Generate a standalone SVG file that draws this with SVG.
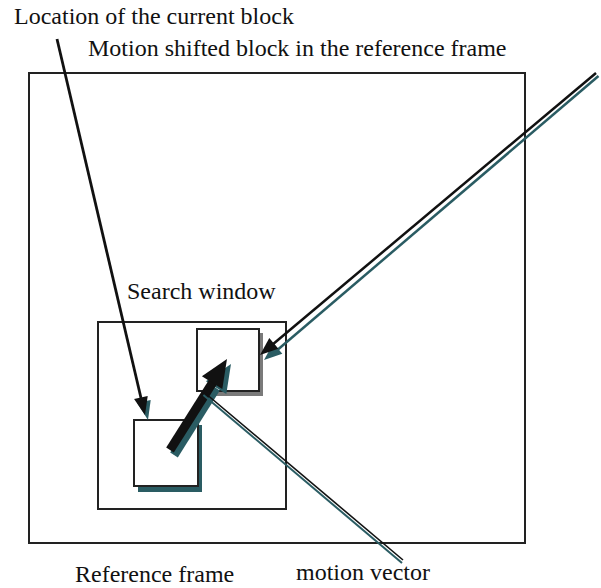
<svg xmlns="http://www.w3.org/2000/svg" width="601" height="588" viewBox="0 0 601 588">
<style>
.lbl{font-family:"Liberation Serif","Times New Roman",serif;font-size:24px;fill:#111}
.box{fill:none;stroke:#222;stroke-width:2}
.blk{fill:#fff;stroke:#222;stroke-width:2}
.teal{fill:#2a5c63}
.tealS{stroke:#2a5c63;fill:none}
.blkS{stroke:#111;fill:none}
</style>
<rect width="601" height="588" fill="#fff"/>
<g id="reference-frame">
<rect class="box" x="29" y="73" width="496" height="470"/>
<text class="lbl" x="75" y="582">Reference frame</text>
</g>
<g id="search-window">
<rect class="box" x="98" y="322" width="188" height="187"/>
<text class="lbl" x="127" y="299">Search window</text>
</g>
<g id="current-block">
<rect class="teal" x="138" y="425" width="64" height="67"/>
<rect class="blk" x="134" y="420" width="64" height="66"/>
</g>
<g id="shifted-block">
<rect x="201" y="333" width="62" height="63" fill="#7a7a7a"/>
<rect class="blk" x="197" y="329" width="62" height="62"/>
</g>
<g id="labels">
<text class="lbl" x="14" y="24">Location of the current block</text>
<text class="lbl" x="88" y="56">Motion shifted block in the reference frame</text>
<text class="lbl" x="296" y="580">motion vector</text>
</g>
<g id="connectors">
<!-- location arrow -->
<polygon class="teal" points="148,420 150.7,399.9 137.1,403.1"/>
<line class="blkS" x1="57" y1="39" x2="141" y2="398" stroke-width="2.8"/>
<polygon points="145,415 147.7,395.9 134.1,399.1" fill="#111"/>
<!-- double line arrow to shifted block -->
<line class="tealS" x1="598.5" y1="76" x2="275" y2="352" stroke-width="2.5"/>
<polygon class="teal" points="264,360 282.3,353.8 273.3,343"/>
<line class="blkS" x1="596" y1="73" x2="272" y2="345" stroke-width="2.5"/>
<polygon points="260,355 278.3,348.8 269.3,338" fill="#111"/>
<!-- thick motion vector arrow -->
<line class="tealS" x1="174" y1="455" x2="216" y2="388" stroke-width="9"/>
<polygon class="teal" points="231,364 226.3,394.1 205.9,381.3"/>
<line class="blkS" x1="170" y1="450" x2="213" y2="382" stroke-width="9"/>
<polygon points="227,359 222.3,389.1 201.9,376.3" fill="#111"/>
<!-- motion vector label line -->
<line class="tealS" x1="203.4" y1="395" x2="402" y2="563" stroke-width="2"/>
<line class="blkS" x1="205" y1="393" x2="403" y2="560" stroke-width="1.6"/>
</g>
</svg>
